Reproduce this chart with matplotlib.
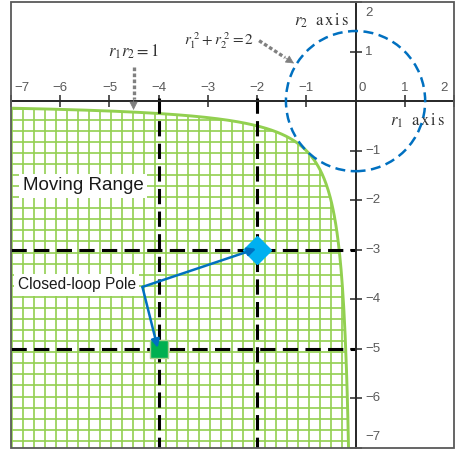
import numpy as np
import matplotlib.pyplot as plt
from matplotlib.patches import Polygon, Circle, Rectangle

# chart values
x_ticks = [-7, -6, -5, -4, -3, -2, -1, 0, 1, 2]
y_ticks = [2, 1, -1, -2, -3, -4, -5, -6, -7]
product_value = 1        # r1 * r2 = 1
circle_value = 2         # r1^2 + r2^2 = 2
guide_r1 = [-4, -2]
guide_r2 = [-3, -5]
pole_r1 = [-2, -4]
pole_r2 = [-3, -5]
label_xy = (-4.33, -3.75)

GREEN = "#92D050"
BLUE = "#0070C0"
GRAY = "#595959"
SANS = "Liberation Sans"

plt.rcParams["mathtext.fontset"] = "stix"

fig = plt.figure(figsize=(4.56, 4.49), dpi=100)
ax = fig.add_axes([11 / 456, 1 / 449, 443 / 456, 446 / 449])
ax.set_xlim(-7, 1.9)
ax.set_ylim(-7, 2)

# moving range: area under r1*r2 = 1 in the third quadrant
r1 = np.linspace(-7, -product_value / 7, 500)
r2 = product_value / r1
verts = [(-7, -7)] + list(zip(r1, r2))
region = Polygon(verts, closed=True, facecolor="white", edgecolor="none", zorder=1)
ax.add_patch(region)

cell = 0.2235
vl = ax.vlines(np.arange(-6.98, 0, cell), -7, 0, color=GREEN, lw=1.2, zorder=1.5)
hl = ax.hlines(np.arange(-6.855, 0, cell), -7, 0, color=GREEN, lw=1.2, zorder=1.5)
vl.set_clip_path(region)
hl.set_clip_path(region)
ax.plot(r1, r2, color=GREEN, lw=2.1, zorder=2)

# dashed guides through the poles
for x in guide_r1:
    ax.plot([x, x], [0.07, -7], color="black", lw=2.2, ls=(0, (5, 2.4)), zorder=3)
for y in guide_r2:
    ax.plot([-7, 0], [y, y], color="black", lw=2.2, ls=(0, (5, 2.4)), zorder=3)

# circle r1^2 + r2^2 = 2
ax.add_patch(Circle((0, 0), np.sqrt(circle_value), fill=False, edgecolor=BLUE,
                    lw=1.8, ls=(0, (4, 2.2)), zorder=4))

# axes through origin
for side in ["top", "right"]:
    ax.spines[side].set_visible(False)
ax.spines["left"].set_position(("data", 0))
ax.spines["bottom"].set_position(("data", 0))
for side in ["left", "bottom"]:
    ax.spines[side].set_color("#262626")
    ax.spines[side].set_linewidth(1.4)
    ax.spines[side].set_zorder(3.5)
ax.set_xticks([v for v in x_ticks if v != 0])
ax.set_yticks([v for v in y_ticks if v != 0])
ax.tick_params(direction="inout", length=8, width=1.1, color="#262626",
               labelbottom=False, labelleft=False)
ax.add_patch(Rectangle((0, 0), 1, 1, transform=ax.transAxes, fill=False,
                       edgecolor=GRAY, lw=1.3, zorder=10, clip_on=False))

# tick labels
x_shift = {-7: 0.22, 0: 0.14, 2: -0.2}
for v in x_ticks:
    ax.text(v + x_shift.get(v, 0), 0.26, f"{v}".replace("-", "\u2212"),
            ha="center", va="center", fontsize=9.5, color=GRAY, family=SANS)
y_shift = {2: -0.23, -7: 0.23}
for v in y_ticks:
    ax.text(0.2, v + y_shift.get(v, 0), f"{v}".replace("-", "\u2212"),
            ha="left", va="center", fontsize=9.5, color=GRAY, family=SANS)

# poles
ax.plot(pole_r1[0], pole_r2[0], marker="D", ms=14, color="#00B0F0",
        mec="#00B0F0", zorder=5)
ax.plot(pole_r1[1], pole_r2[1], marker="s", ms=13, mfc="#00B050",
        mec="#A9D18E", mew=1, zorder=5)
for px, py in zip(pole_r1, pole_r2):
    ax.annotate("", xy=(px - 0.02, py + 0.02), xytext=label_xy,
                arrowprops=dict(arrowstyle="-|>", color=BLUE, lw=1.8,
                                mutation_scale=12, shrinkA=0, shrinkB=0),
                zorder=6)

# labels
box = dict(facecolor="white", edgecolor="none", pad=2.5)
ax.text(-5.53, -1.71, "Moving Range", fontsize=13.5, family=SANS, color="#1a1a1a",
        ha="center", va="center", bbox=box, zorder=5)
ax.text(-5.66, -3.71, "Closed-loop Pole", fontsize=11.2, family=SANS, color="#1a1a1a",
        ha="center", va="center", bbox=box, zorder=5)

math_color = "#333333"
ax.text(-4.51, 0.99, r"$r_1 r_2 = 1$", fontsize=12, color=math_color,
        ha="center", va="center")
ax.text(-2.77, 1.23, r"$r_1^{\ 2} + r_2^{\ 2} = 2$", fontsize=11, color=math_color,
        ha="center", va="center")
ax.text(-0.70, 1.62, r"$r_2\ \ \mathrm{a\,x\,i\,s}$", fontsize=12, color=math_color,
        ha="center", va="center")
ax.text(1.26, -0.40, r"$r_1\ \ \mathrm{a\,x\,i\,s}$", fontsize=12, color=math_color,
        ha="center", va="center")

# dotted pointers to the two curves: dotted shaft + small solid head
pointers = [((-4.51, 0.69), (-4.51, -0.18)), ((-1.96, 1.22), (-1.25, 0.76))]
for (x0, y0), (x1, y1) in pointers:
    hx = x1 - 0.22 * (x1 - x0) / np.hypot(x1 - x0, y1 - y0)
    hy = y1 - 0.22 * (y1 - y0) / np.hypot(x1 - x0, y1 - y0)
    ax.plot([x0, hx], [y0, hy], color="#808080", lw=2.4, ls=(0, (1.1, 0.7)),
            solid_capstyle="butt", zorder=6)
    ax.annotate("", xy=(x1, y1), xytext=(hx, hy),
                arrowprops=dict(arrowstyle="-|>", color="#808080", lw=0.5,
                                mutation_scale=13, shrinkA=0, shrinkB=0),
                zorder=6)

fig.savefig("out.png", dpi=100)
